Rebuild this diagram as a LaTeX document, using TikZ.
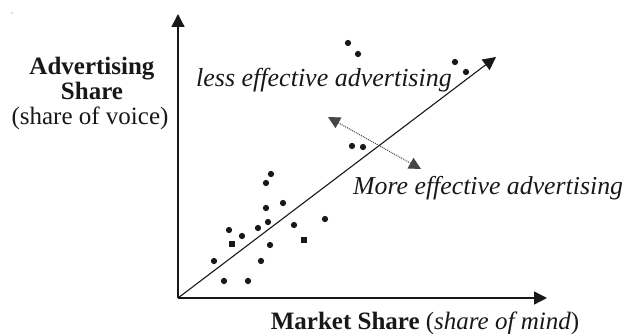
\documentclass[tikz,border=0pt]{standalone}
\usepackage{fontspec}
\setmainfont{Liberation Serif}
\usetikzlibrary{arrows.meta}
\definecolor{ink}{HTML}{1A1718}
\tikzset{
  axis/.style={draw=ink, line width=1.4pt, -{Triangle[length=13pt,width=13pt]}},
  diag/.style={draw=ink, line width=1.1pt, -{Triangle[length=13pt,width=13pt]}},
  dblarrow/.style={draw=ink!80, line width=1pt, densely dotted, {Triangle[length=12pt,width=12pt]}-{Triangle[length=12pt,width=12pt]}},
  pt/.style={fill=ink, circle, inner sep=0pt, minimum size=6.3pt},
  sq/.style={fill=ink, rectangle, inner sep=0pt, minimum size=5.5pt},
  lbl/.style={text=ink, inner sep=0pt, font=\fontsize{25}{25}\selectfont},
}
\begin{document}
\begin{tikzpicture}[x=1pt,y=-1pt]
\useasboundingbox (0,0) rectangle (633,334);
\fill[ink!60] (12,13) circle (0.6);
\coordinate (o) at (178,298);
\coordinate (ytip) at (178,14);
\coordinate (xtip) at (547,298);
\coordinate (dtip) at (496,57);
\coordinate (da) at (328,117);
\coordinate (db) at (421,169);
\draw[axis] (o) -- (ytip);
\draw[axis] (o) -- (xtip);
\draw[diag] (o) -- (dtip);
\draw[dblarrow] (da) -- (db);
% dots
\foreach \n/\x/\y in {a/271/174, b/266/183, c/283/203, d/266/208, e/268/222, f/258/228, g/229/230, h/242/236, i/270/245, j/294/225, k/325/219, l/214/261, m/261/261, n/224/281, p/248/281, q/348/43, r/358/54, s/455/62, t/466/72, u/352/146, v/363/147}
  \node[pt] (dot\n) at (\x,\y) {};
\node[sq] (sq1) at (232,244) {};
\node[sq] (sq2) at (304,240) {};
% labels
\node[lbl, anchor=base] (ya1) at (92,75) {\textbf{Advertising}};
\node[lbl, anchor=base] (ya2) at (92,100) {\textbf{Share}};
\node[lbl, anchor=base] (ya3) at (90,125) {(share of voice)};
\node[lbl, anchor=base] (xl) at (425,330) {\textbf{Market Share} (\textit{share of mind})};
\node[lbl, anchor=base west, font=\fontsize{26}{26}\selectfont] (less) at (196,87) {\textit{less effective advertising}};
\node[lbl, anchor=base west, font=\fontsize{25.8}{25.8}\selectfont] (more) at (353,195) {\textit{More effective advertising}};
\end{tikzpicture}
\end{document}
